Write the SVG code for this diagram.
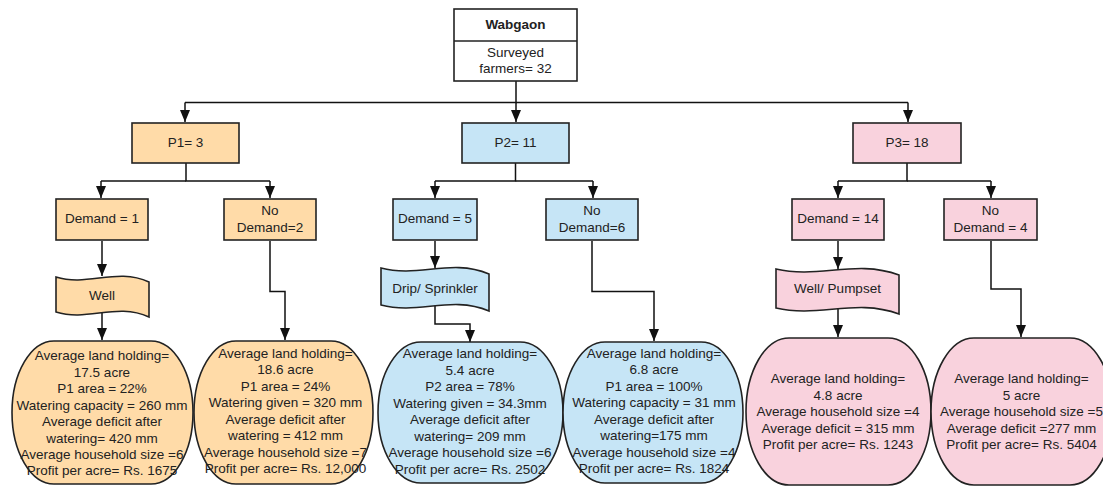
<svg xmlns="http://www.w3.org/2000/svg" width="1103" height="487" viewBox="0 0 1103 487">
<style>
text{font-family:"Liberation Sans",Arial,sans-serif;font-size:13.5px;fill:#222;text-anchor:middle}
.b{font-weight:bold}
.n{stroke:#222;stroke-width:1.6}
.o{fill:#FFDBA8}
.bl{fill:#C6E5F6}
.p{fill:#F9D2DD}
.w{fill:#fff}
.c{fill:none;stroke:#111;stroke-width:1.5;marker-end:url(#ah)}
.l{fill:none;stroke:#111;stroke-width:1.5}
</style>
<defs>
<marker id="ah" markerUnits="userSpaceOnUse" markerWidth="12" markerHeight="14" viewBox="0 0 12 14" refX="12" refY="5" orient="auto">
<path d="M0,0 L12,5 L0,10 z" fill="#111"/>
</marker>
</defs>
<rect width="1103" height="487" fill="#fff"/>
<g id="connectors">
<path class="l" d="M516,81 V102.5 H185"/>
<path class="l" d="M516,102.5 H908"/>
<path class="c" d="M185,102.5 V122"/>
<path class="c" d="M516,102.5 V122"/>
<path class="c" d="M908,102.5 V122"/>
<path class="l" d="M186,163 V181 H270"/>
<path class="c" d="M101,181 V198"/>
<path class="c" d="M101,181 H186" style="marker-end:none"/>
<path class="c" d="M270,181 V198"/>
<path class="l" d="M515.5,163 V181 H435"/>
<path class="l" d="M515.5,181 H593"/>
<path class="c" d="M435,181 V198"/>
<path class="c" d="M593,181 V198"/>
<path class="l" d="M907,163 V181 H838"/>
<path class="l" d="M907,181 H991"/>
<path class="c" d="M838,181 V198"/>
<path class="c" d="M991,181 V198"/>
<path class="c" d="M102,241 V276"/>
<path class="c" d="M435,241 V268"/>
<path class="c" d="M838,241 V269"/>
<path class="c" d="M102,312 V340"/>
<path class="c" d="M435,304 V324 H470 V342"/>
<path class="c" d="M838,309 V337"/>
<path class="c" d="M270,241 V291.5 H285 V340"/>
<path class="c" d="M592,241 V291.5 H654 V341"/>
<path class="c" d="M991,241 V289 H1021 V337"/>
</g>
<g id="wabgaon">
<rect class="n w" x="454" y="9" width="123" height="72"/>
<line class="n" x1="454" y1="41" x2="577" y2="41"/>
<text class="b" x="515.5" y="29">Wabgaon</text>
<text x="515.5" y="56.5">Surveyed</text>
<text x="515.5" y="73">farmers= 32</text>
</g>
<g id="p1">
<rect class="n o" x="132" y="123" width="107" height="40"/>
<text x="185.5" y="146.5">P1= 3</text>
</g>
<g id="p2">
<rect class="n bl" x="462" y="123" width="107" height="40"/>
<text x="515.5" y="146.5">P2= 11</text>
</g>
<g id="p3">
<rect class="n p" x="853" y="123" width="108" height="40"/>
<text x="907" y="146.5">P3= 18</text>
</g>
<g id="demand1">
<rect class="n o" x="56" y="199" width="92" height="41"/>
<text x="102" y="223">Demand = 1</text>
</g>
<g id="nodemand2">
<rect class="n o" x="224" y="199" width="92" height="41"/>
<text x="270" y="215">No</text>
<text x="270" y="231.5">Demand=2</text>
</g>
<g id="demand5">
<rect class="n bl" x="393" y="199" width="84" height="41"/>
<text x="435" y="223">Demand = 5</text>
</g>
<g id="nodemand6">
<rect class="n bl" x="546" y="199" width="92" height="41"/>
<text x="592" y="215">No</text>
<text x="592" y="231.5">Demand=6</text>
</g>
<g id="demand14">
<rect class="n p" x="792" y="199" width="92" height="41"/>
<text x="838" y="223">Demand = 14</text>
</g>
<g id="nodemand4">
<rect class="n p" x="944" y="199" width="93" height="41"/>
<text x="990.5" y="215">No</text>
<text x="990.5" y="231.5">Demand = 4</text>
</g>
<g id="well">
<path class="n o" d="M56,277 C88.5,287 116.5,267 149,282 L149,317 C116.5,302 88.5,322 56,312 Z"/>
<text x="102" y="300">Well</text>
</g>
<g id="drip">
<path class="n bl" d="M381,268 C419,278 451,258 489,274 L489,311 C451,295 419,315 381,305 Z"/>
<text x="435" y="293">Drip/ Sprinkler</text>
</g>
<g id="wellpump">
<path class="n p" d="M776,269 C819,279 856,259 899,275 L899,314 C856,298 819,318 776,308 Z"/>
<text x="837.5" y="293">Well/ Pumpset</text>
</g>
<g id="oval1">
<rect class="n o" x="12" y="341" width="181" height="143" rx="42" ry="71.5"/>
<text x="102" y="360">Average land holding=</text>
<text x="102" y="376.5">17.5 acre</text>
<text x="102" y="393">P1 area = 22%</text>
<text x="102" y="409.5">Watering capacity = 260 mm</text>
<text x="102" y="426">Average deficit after</text>
<text x="102" y="442.5">watering= 420 mm</text>
<text x="102" y="459">Average household size =6</text>
<text x="102" y="475">Profit per acre= Rs. 1675</text>
</g>
<g id="oval2">
<rect class="n o" x="194" y="341" width="179" height="143" rx="42" ry="71.5"/>
<text x="285.5" y="357.5">Average land holding=</text>
<text x="285.5" y="374">18.6 acre</text>
<text x="285.5" y="390.5">P1 area = 24%</text>
<text x="285.5" y="407">Watering given = 320 mm</text>
<text x="285.5" y="423.5">Average deficit after</text>
<text x="285.5" y="440">watering = 412 mm</text>
<text x="285.5" y="456.5">Average household size =7</text>
<text x="285.5" y="472.5">Profit per acre= Rs. 12,000</text>
</g>
<g id="oval3">
<rect class="n bl" x="378" y="342" width="185" height="141" rx="43" ry="70.5"/>
<text x="470" y="358">Average land holding=</text>
<text x="470" y="374.5">5.4 acre</text>
<text x="470" y="391">P2 area = 78%</text>
<text x="470" y="407.5">Watering given = 34.3mm</text>
<text x="470" y="424">Average deficit after</text>
<text x="470" y="440.5">watering= 209 mm</text>
<text x="470" y="457">Average household size =6</text>
<text x="470" y="473.5">Profit per acre= Rs. 2502</text>
</g>
<g id="oval4">
<rect class="n bl" x="563" y="342" width="180" height="141" rx="42" ry="70.5"/>
<text x="654" y="357.5">Average land holding=</text>
<text x="654" y="374">6.8 acre</text>
<text x="654" y="390.5">P1 area = 100%</text>
<text x="654" y="407">Watering capacity = 31 mm</text>
<text x="654" y="423.5">Average deficit after</text>
<text x="654" y="440">watering=175 mm</text>
<text x="654" y="456.5">Average household size =4</text>
<text x="654" y="473">Profit per acre= Rs. 1824</text>
</g>
<g id="oval5">
<rect class="n p" x="746" y="338" width="185" height="147" rx="43" ry="73.5"/>
<text x="838" y="382.5">Average land holding=</text>
<text x="838" y="399.5">4.8 acre</text>
<text x="838" y="416">Average household size =4</text>
<text x="838" y="432.5">Average deficit = 315 mm</text>
<text x="838" y="449">Profit per acre= Rs. 1243</text>
</g>
<g id="oval6">
<rect class="n p" x="931" y="338" width="182" height="147" rx="43" ry="73.5"/>
<text x="1021.5" y="382.5">Average land holding=</text>
<text x="1021.5" y="399.5">5 acre</text>
<text x="1021.5" y="416">Average household size =5</text>
<text x="1021.5" y="432.5">Average deficit =277 mm</text>
<text x="1021.5" y="449">Profit per acre= Rs. 5404</text>
</g>
</svg>
